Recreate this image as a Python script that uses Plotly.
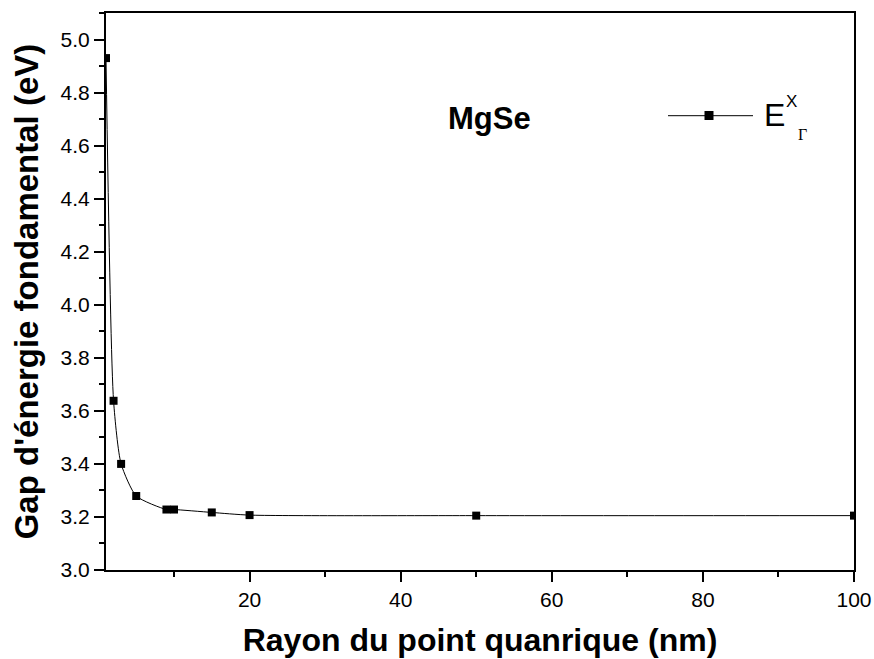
import plotly.graph_objects as go

radius_nm = [1, 2, 3, 5, 9, 10, 15, 20, 50, 100]
gap_eV = [4.93, 3.638, 3.40, 3.279, 3.228, 3.228, 3.217, 3.207, 3.205, 3.205]

x_ticks = [20, 40, 60, 80, 100]
y_ticks = [3.0, 3.2, 3.4, 3.6, 3.8, 4.0, 4.2, 4.4, 4.6, 4.8, 5.0]

W, H = 874, 659
L, R, T, B = 106, 20, 13, 89
pw, ph = W - L - R, H - T - B

def px(xp):
    return (xp - L) / pw

def py(yp):
    return (H - B - yp) / ph

FONT = "Liberation Sans, Arial, sans-serif"

fig = go.Figure()
fig.add_trace(go.Scatter(
    x=radius_nm, y=gap_eV, mode="lines+markers",
    line=dict(color="black", width=1, shape="spline", smoothing=0.6),
    marker=dict(symbol="square", size=8, color="black"),
    showlegend=False, cliponaxis=True,
))

axis_common = dict(
    showgrid=False, zeroline=False, showline=True, linecolor="black", linewidth=2,
    ticks="outside", ticklen=10, tickwidth=2, tickcolor="black",
    tickfont=dict(family=FONT, size=21, color="black"),
    mirror=True, automargin=False,
    minor=dict(ticks="outside", ticklen=5, tickwidth=2, tickcolor="black"),
)

fig.update_xaxes(
    range=[1, 100], tickvals=x_ticks, ticktext=[str(v) for v in x_ticks],
    minor_dtick=10, minor_tick0=0,
    title=dict(text="<b>Rayon du point quanrique (nm)</b>",
               font=dict(family=FONT, size=32, color="black"),
               standoff=18),
    **axis_common,
)
fig.update_yaxes(
    range=[3.0, 5.1], tickvals=y_ticks, ticktext=[f"{v:.1f}" for v in y_ticks],
    minor_dtick=0.1, minor_tick0=3.0,
    title=dict(text="<b>Gap d'énergie fondamental (eV)</b>",
               font=dict(family=FONT, size=33, color="black"),
               standoff=12),
    **axis_common,
)

# MgSe label
fig.add_annotation(xref="paper", yref="paper", x=px(446), y=py(118),
                   xanchor="left", yanchor="middle", showarrow=False,
                   text="<b>MgSe</b>",
                   font=dict(family=FONT, size=31, color="black"))

# Legend (drawn manually)
fig.add_shape(type="line", xref="paper", yref="paper",
              x0=px(668), x1=px(753), y0=py(115.7), y1=py(115.7),
              line=dict(color="black", width=1))
fig.add_shape(type="rect", xref="paper", yref="paper",
              x0=px(704.5), x1=px(713.5), y0=py(111), y1=py(120),
              line=dict(width=0), fillcolor="black")
fig.add_annotation(xref="paper", yref="paper", x=px(762), y=py(115),
                   xanchor="left", yanchor="middle", showarrow=False, text="E",
                   font=dict(family=FONT, size=32, color="black"))
fig.add_annotation(xref="paper", yref="paper", x=px(784), y=py(102),
                   xanchor="left", yanchor="middle", showarrow=False, text="X",
                   font=dict(family=FONT, size=17, color="black"))
fig.add_annotation(xref="paper", yref="paper", x=px(796), y=py(134),
                   xanchor="left", yanchor="middle", showarrow=False, text="Γ",
                   font=dict(family="Liberation Serif, Times New Roman, serif", size=16, color="black"))

fig.update_layout(
    width=W, height=H,
    margin=dict(l=L, r=R, t=T, b=B),
    plot_bgcolor="white", paper_bgcolor="white",
)

fig.write_html("out.html")
